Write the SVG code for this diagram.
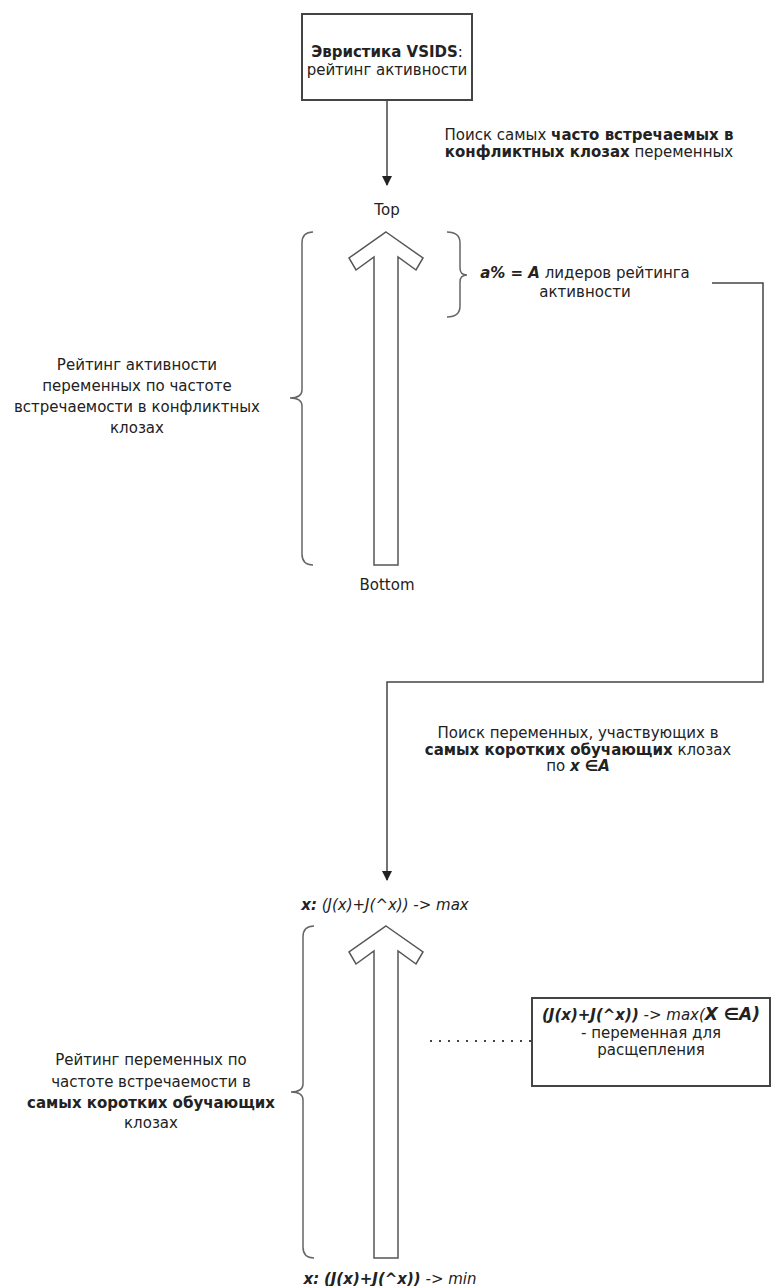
<svg xmlns="http://www.w3.org/2000/svg" width="771" height="1286" viewBox="0 0 771 1286">
<defs>
<style>
text{font-family:"DejaVu Sans","Liberation Sans",sans-serif;font-size:15px;fill:#222;text-anchor:middle}
.b{font-weight:bold}
.i{font-style:italic}
.line{fill:none;stroke:#444;stroke-width:1.5}
.shape{fill:#fff;stroke:#555;stroke-width:1.5}
.brace{fill:none;stroke:#666;stroke-width:1.5}
</style>
<marker id="ah" viewBox="0 0 10 10" refX="9" refY="5" markerWidth="10" markerHeight="10" markerUnits="userSpaceOnUse" orient="auto">
<path d="M0,0 L10,5 L0,10 Z" fill="#222"/>
</marker>
</defs>
<rect width="771" height="1286" fill="#fff"/>

<g id="connectors">
<line class="line" x1="387" y1="100" x2="387" y2="185" marker-end="url(#ah)"/>
<polyline class="line" points="712,283 763,283 763,682 387,682 387,880" marker-end="url(#ah)"/>
<line x1="430" y1="1041" x2="532" y2="1041" stroke="#444" stroke-width="2.2" stroke-dasharray="2,7"/>
</g>

<g id="vsids">
<rect x="302" y="14" width="170" height="86" fill="#fff" stroke="#444" stroke-width="2"/>
<text x="387" y="57"><tspan class="b">Эвристика VSIDS</tspan>:</text>
<text x="387" y="75">рейтинг активности</text>
</g>

<g id="label-search1">
<text x="589" y="140">Поиск самых <tspan class="b">часто встречаемых в</tspan></text>
<text x="589" y="157"><tspan class="b">конфликтных клозах</tspan>  переменных</text>
</g>

<g id="rating1">
<text x="387" y="215">Top</text>
<path class="shape" d="M386,232 L423,258 L416,270 L398,257 L398,565 L374,565 L374,257 L356,270 L349,258 Z"/>
<text x="387" y="590">Bottom</text>
</g>

<g id="brace-left1">
<path class="brace" d="M313,232 Q302,232 302,243 L302,390 Q302,398 290,398 Q302,398 302,406 L302,554 Q302,565 313,565"/>
<text x="137" y="370">Рейтинг активности</text>
<text x="137" y="391">переменных по частоте</text>
<text x="137" y="412">встречаемости в конфликтных</text>
<text x="137" y="433">клозах</text>
</g>

<g id="brace-right1">
<path class="brace" d="M447,232 Q460,232 460,243 L460,268 Q460,275 467,275 Q460,275 460,282 L460,306 Q460,317 447,317"/>
<text x="585" y="278"><tspan class="b i">a% = A</tspan> лидеров рейтинга</text>
<text x="585" y="297">активности</text>
</g>

<g id="label-search2">
<text x="578" y="738">Поиск переменных, участвующих в</text>
<text x="578" y="755"><tspan class="b">самых коротких обучающих</tspan> клозах</text>
<text x="578" y="771">по <tspan class="b i">x ∈A</tspan></text>
</g>

<g id="rating2">
<text x="385" y="910" class="i"><tspan class="b">x:</tspan> (J(x)+J(^x)) -&gt; max</text>
<path class="shape" d="M386,926 L423,952 L416,964 L398,951 L398,1258 L374,1258 L374,951 L356,964 L349,952 Z"/>
<text x="390" y="1284" class="i"><tspan class="b">x:</tspan> <tspan class="b">(J(x)+J(^x))</tspan> -&gt; min</text>
</g>

<g id="brace-left2">
<path class="brace" d="M314,926 Q303,926 303,937 L303,1084 Q303,1092 291,1092 Q303,1092 303,1100 L303,1247 Q303,1258 314,1258"/>
<text x="151" y="1065">Рейтинг переменных по</text>
<text x="151" y="1087">частоте встречаемости в</text>
<text x="151" y="1108" class="b">самых коротких обучающих</text>
<text x="151" y="1128">клозах</text>
</g>

<g id="split-var">
<rect x="532" y="998" width="238" height="88" fill="#fff" stroke="#444" stroke-width="2"/>
<text x="651" y="1020" class="i"><tspan class="b">(J(x)+J(^x))</tspan> -&gt; max(<tspan class="b" font-size="17">X ∈A)</tspan></text>
<text x="651" y="1038">- переменная для</text>
<text x="651" y="1055">расщепления</text>
</g>
</svg>
